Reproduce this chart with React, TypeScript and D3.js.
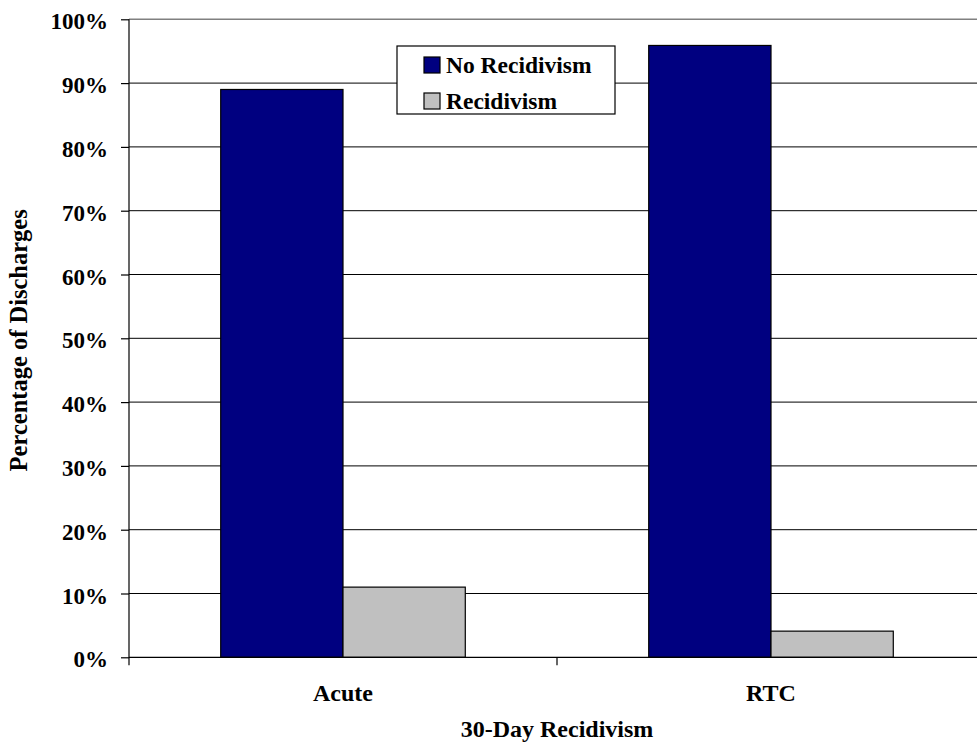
import React, { useEffect, useRef } from 'react';
import * as d3 from 'd3';

const categories = ['Acute', 'RTC'];
const seriesNames = ['No Recidivism', 'Recidivism'];
const noRecidivism = [0.89, 0.959];
const recidivism = [0.11, 0.041];
const yTicks = [0, 0.1, 0.2, 0.3, 0.4, 0.5, 0.6, 0.7, 0.8, 0.9, 1.0];
const colors = ['#000080', '#C0C0C0'];

const width = 977;
const height = 743;
const plot = { left: 129, right: 985, top: 19.3, bottom: 657.3 };
const font = '"Liberation Serif", "Times New Roman", serif';

export default function App() {
  const ref = useRef<SVGSVGElement>(null);

  useEffect(() => {
    const svg = d3.select(ref.current);
    svg.selectAll('*').remove();

    const yScale = d3.scaleLinear().domain([0, 1]).range([plot.bottom, plot.top]);
    const x0 = d3.scaleBand().domain(categories).range([plot.left, plot.right]).padding(0);
    const x1 = d3.scaleBand().domain(seriesNames).range([0, x0.bandwidth()])
      .paddingInner(0).paddingOuter(0.75);

    // gridlines (top one is the grey plot border)
    svg.append('g')
      .selectAll('line')
      .data(yTicks.filter(t => t > 0))
      .join('line')
      .attr('x1', plot.left).attr('x2', plot.right)
      .attr('y1', d => yScale(d)).attr('y2', d => yScale(d))
      .attr('stroke', d => d === 1 ? '#808080' : '#000')
      .attr('stroke-width', d => d === 1 ? 1.5 : 1);

    // bars
    const values = [noRecidivism, recidivism];
    const rows = categories.flatMap((c, i) => seriesNames.map((s, j) => ({ c, s, j, v: values[j][i] })));
    svg.append('g')
      .selectAll('rect')
      .data(rows)
      .join('rect')
      .attr('x', d => (x0(d.c) as number) + (x1(d.s) as number))
      .attr('y', d => yScale(d.v))
      .attr('width', x1.bandwidth())
      .attr('height', d => plot.bottom - yScale(d.v))
      .attr('fill', d => colors[d.j])
      .attr('stroke', '#000')
      .attr('stroke-width', 1.2);

    // y axis
    const yAxis = d3.axisLeft(yScale)
      .tickValues(yTicks)
      .tickFormat(d3.format('.0%'))
      .tickSize(8)
      .tickSizeOuter(0)
      .tickPadding(13);
    const yAxisG = svg.append('g')
      .attr('transform', `translate(${plot.left},0)`)
      .call(yAxis);
    yAxisG.select('.domain').remove();
    yAxisG.selectAll('line').attr('stroke', '#000').attr('stroke-width', 1.2);
    yAxisG.selectAll('text')
      .attr('dy', '0.42em')
      .attr('fill', '#000')
      .style('font-family', font)
      .style('font-size', '23px')
      .style('font-weight', 'bold');

    // x axis line and ticks at category boundaries
    svg.append('line')
      .attr('x1', plot.left).attr('x2', plot.right)
      .attr('y1', plot.bottom).attr('y2', plot.bottom)
      .attr('stroke', '#000').attr('stroke-width', 1.2);
    svg.append('line')
      .attr('x1', plot.left).attr('x2', plot.left)
      .attr('y1', plot.top).attr('y2', plot.bottom + 8)
      .attr('stroke', '#000').attr('stroke-width', 1.2);
    svg.append('g')
      .selectAll('line')
      .data(categories.slice(1))
      .join('line')
      .attr('x1', d => x0(d) as number).attr('x2', d => x0(d) as number)
      .attr('y1', plot.bottom).attr('y2', plot.bottom + 8)
      .attr('stroke', '#000').attr('stroke-width', 1.2);

    // category labels
    svg.append('g')
      .selectAll('text')
      .data(categories)
      .join('text')
      .attr('x', d => (x0(d) as number) + x0.bandwidth() / 2)
      .attr('y', 701)
      .attr('text-anchor', 'middle')
      .style('font-family', font)
      .style('font-size', '24px')
      .style('font-weight', 'bold')
      .text(d => d);

    // axis titles
    svg.append('text')
      .attr('x', (plot.left + plot.right) / 2)
      .attr('y', 737)
      .attr('text-anchor', 'middle')
      .style('font-family', font)
      .style('font-size', '24px')
      .style('font-weight', 'bold')
      .text('30-Day Recidivism');

    svg.append('text')
      .attr('transform', `translate(27, ${(plot.top + plot.bottom) / 2 + 2}) rotate(-90)`)
      .attr('text-anchor', 'middle')
      .style('font-family', font)
      .style('font-size', '24.5px')
      .style('font-weight', 'bold')
      .text('Percentage of Discharges');

    // legend
    const legend = svg.append('g').attr('transform', 'translate(397,46)');
    legend.append('rect')
      .attr('width', 218).attr('height', 68)
      .attr('fill', '#fff').attr('stroke', '#000').attr('stroke-width', 1.2);
    const item = legend.selectAll('g.item')
      .data(seriesNames)
      .join('g')
      .attr('class', 'item')
      .attr('transform', (d, i) => `translate(27, ${11 + i * 36})`);
    item.append('rect')
      .attr('width', 16).attr('height', 16)
      .attr('fill', (d, i) => colors[i])
      .attr('stroke', '#000').attr('stroke-width', 1.2);
    item.append('text')
      .attr('x', 22).attr('y', 16)
      .style('font-family', font)
      .style('font-size', '23.5px')
      .style('font-weight', 'bold')
      .text(d => d);
  }, []);

  return (
    <svg ref={ref} width={width} height={height}
      style={{ position: 'absolute', left: 0, top: 0, background: '#fff' }} />
  );
}
